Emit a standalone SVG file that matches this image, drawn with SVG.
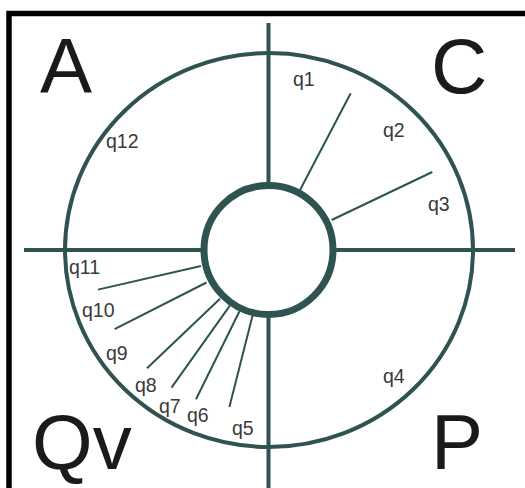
<svg xmlns="http://www.w3.org/2000/svg" width="525" height="488" viewBox="0 0 525 488">
<style>
.ax{stroke:#2e5350;stroke-width:4;fill:none}
.sp{stroke:#2e5350;stroke-width:2;fill:none}
.lb{font-family:"Liberation Sans",Arial,sans-serif;font-size:19.5px;fill:#3a3a3a}
.big{font-family:"Liberation Sans",Arial,sans-serif;font-size:78px;fill:#1a1a1a}
</style>
<rect width="525" height="488" fill="#fff"/>
<rect x="9" y="13.5" width="600" height="600" fill="none" stroke="#000" stroke-width="5.5"/>
<g id="big-labels">
<text class="big" x="40" y="93">A</text>
<text class="big" x="431" y="93">C</text>
<text class="big" x="32" y="469">Qv</text>
<text class="big" x="431" y="469">P</text>
</g>
<g id="outer-ring"><ellipse class="ax" cx="269" cy="250" rx="204" ry="197"/></g>
<g id="connectors">
<line class="ax" x1="268.5" y1="23" x2="268.5" y2="186"/>
<line class="ax" x1="268.5" y1="314" x2="268.5" y2="488"/>
<line class="ax" x1="24" y1="250" x2="204" y2="250"/>
<line class="ax" x1="333" y1="250" x2="515" y2="250"/>
<line class="sp" x1="300" y1="190" x2="350.7" y2="93.3"/>
<line class="sp" x1="331.7" y1="220" x2="432.3" y2="172"/>
<line class="sp" x1="201" y1="266" x2="98" y2="289.6"/>
<line class="sp" x1="206.5" y1="282.5" x2="114.6" y2="329.2"/>
<line class="sp" x1="220" y1="298.8" x2="147" y2="368.3"/>
<line class="sp" x1="229.7" y1="305.8" x2="171.5" y2="387.7"/>
<line class="sp" x1="239.5" y1="311.2" x2="196" y2="399.2"/>
<line class="sp" x1="252.5" y1="315.8" x2="229.4" y2="407"/>
</g>
<g id="hub"><circle cx="268.5" cy="250" r="64.5" fill="#fff" stroke="#2e5350" stroke-width="7"/></g>
<g id="labels">
<text class="lb" x="293" y="86">q1</text>
<text class="lb" x="383" y="137">q2</text>
<text class="lb" x="428" y="211">q3</text>
<text class="lb" x="383" y="383">q4</text>
<text class="lb" x="232" y="435">q5</text>
<text class="lb" x="187" y="422">q6</text>
<text class="lb" x="159" y="413">q7</text>
<text class="lb" x="135" y="392">q8</text>
<text class="lb" x="106" y="360">q9</text>
<text class="lb" x="82" y="317">q10</text>
<text class="lb" x="69" y="274">q11</text>
<text class="lb" x="106" y="148">q12</text>
</g>
</svg>
